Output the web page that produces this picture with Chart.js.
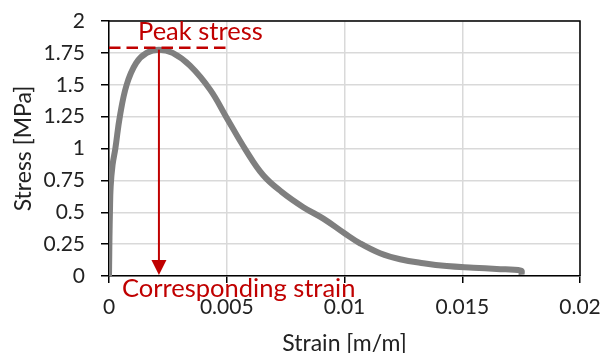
<!DOCTYPE html>
<html>
<head>
<meta charset="utf-8">
<script src="https://cdn.jsdelivr.net/npm/chart.js@4.4.0/dist/chart.umd.min.js"></script>
<style>
  html, body { margin: 0; padding: 0; background: #fff; }
  canvas { display: block; }
</style>
</head>
<body>
<canvas id="stress-strain" width="602" height="353"></canvas>
<script>
// stress-strain curve, strain in m/m and stress in MPa
const strain = [0, 0.00001, 0.00002, 0.00004, 0.00007, 0.00015, 0.00027, 0.00046, 0.00075, 0.00115,
    0.0016, 0.00212, 0.0027, 0.00344, 0.0043, 0.005, 0.0058, 0.00655, 0.00733, 0.00825,
    0.0091, 0.01, 0.01066, 0.01151, 0.01236, 0.01335, 0.01434, 0.01547, 0.01646, 0.0175, 0.01752];
const stress = [0, 0.15, 0.3, 0.5, 0.7, 0.87, 1.0, 1.25, 1.5, 1.67,
    1.75, 1.775, 1.75, 1.65, 1.46, 1.24, 0.99, 0.79, 0.66, 0.54,
    0.45, 0.335, 0.256, 0.178, 0.131, 0.1, 0.078, 0.065, 0.055, 0.042, 0.01];

const xTicks = [0, 0.005, 0.01, 0.015, 0.02];
const yTicks = [0, 0.25, 0.5, 0.75, 1, 1.25, 1.5, 1.75, 2];

const peakStrain = 0.00212;
const peakStress = 1.775;

const RED = '#c00000';
const FONT = 'Lato, "Open Sans", sans-serif';
const TEXT = '#222';

// black frame on the top and right of the plot area
const frame = {
    id: 'frame',
    beforeDatasetsDraw(chart) {
        const { ctx, chartArea: a } = chart;
        ctx.save();
        ctx.strokeStyle = '#000';
        ctx.lineWidth = 1.5;
        ctx.beginPath();
        ctx.moveTo(a.left, a.top);
        ctx.lineTo(a.right, a.top);
        ctx.lineTo(a.right, a.bottom);
        ctx.stroke();
        ctx.restore();
    }
};

// peak marker: dashed level line, arrow down to the strain axis, labels
const peakNotes = {
    id: 'peakNotes',
    afterDatasetsDraw(chart) {
        const { ctx, chartArea: a, scales: { x, y } } = chart;
        const px = x.getPixelForValue(peakStrain);
        const py = y.getPixelForValue(peakStress);
        ctx.save();
        ctx.strokeStyle = RED;
        ctx.fillStyle = RED;

        ctx.lineWidth = 2.5;
        ctx.setLineDash([11.5, 6]);
        ctx.beginPath();
        ctx.moveTo(a.left, py - 2);
        ctx.lineTo(a.left + 120, py - 2);
        ctx.stroke();

        ctx.setLineDash([]);
        ctx.lineWidth = 2;
        ctx.beginPath();
        ctx.moveTo(px, py);
        ctx.lineTo(px, a.bottom - 14);
        ctx.stroke();
        ctx.beginPath();
        ctx.moveTo(px - 7.5, a.bottom - 16);
        ctx.lineTo(px + 7.5, a.bottom - 16);
        ctx.lineTo(px, a.bottom - 1);
        ctx.closePath();
        ctx.fill();

        ctx.font = '25.5px ' + FONT;
        ctx.textBaseline = 'alphabetic';
        ctx.textAlign = 'left';
        ctx.fillText('Peak stress', a.left + 29, a.top + 18.5);
        ctx.fillText('Corresponding strain', a.left + 13, a.bottom + 20.7);
        ctx.restore();
    }
};

// fixed axis sizes; drop the label overhang so the layout padding alone places the plot
function fixSize(prop, size) {
    return s => {
        s[prop] = size;
        s.paddingTop = s.paddingBottom = s.paddingLeft = s.paddingRight = 0;
    };
}

const gridStyle = {
    color: '#d9d9d9',
    lineWidth: 1.5,
    tickColor: '#000',
    tickWidth: 1.5
};

const ctx = document.getElementById('stress-strain').getContext('2d');
new Chart(ctx, {
    type: 'line',
    data: {
        datasets: [{
            data: strain.map((s, i) => ({ x: s, y: stress[i] })),
            borderColor: '#7f7f7f',
            borderWidth: 6,
            pointRadius: 0,
            tension: 0.4,
            fill: false
        }]
    },
    options: {
        responsive: false,
        animation: false,
        devicePixelRatio: 1,
        layout: { padding: { top: 21, right: 22, left: 0, bottom: 0 } },
        plugins: {
            legend: { display: false },
            tooltip: { enabled: false }
        },
        scales: {
            x: {
                type: 'linear',
                min: 0,
                max: 0.02,
                afterBuildTicks: s => { s.ticks = xTicks.map(v => ({ value: v })); },
                afterFit: fixSize('height', 77),
                grid: { ...gridStyle, tickLength: 7 },
                border: { color: '#000', width: 1.5 },
                ticks: {
                    color: TEXT,
                    font: { family: FONT, size: 21 },
                    padding: 12,
                    autoSkip: false,
                    maxRotation: 0,
                    callback: v => String(+v.toFixed(3))
                },
                title: {
                    display: true,
                    text: 'Strain [m/m]',
                    color: TEXT,
                    font: { family: FONT, size: 23 },
                    padding: { top: 0, bottom: -4 }
                }
            },
            y: {
                type: 'linear',
                min: 0,
                max: 2,
                afterBuildTicks: s => { s.ticks = yTicks.map(v => ({ value: v })); },
                afterFit: fixSize('width', 109),
                grid: { ...gridStyle, tickLength: 8 },
                border: { color: '#000', width: 1.5 },
                ticks: {
                    color: TEXT,
                    font: { family: FONT, size: 21 },
                    padding: 16,
                    autoSkip: false,
                    callback: v => String(v)
                },
                title: {
                    display: true,
                    text: 'Stress [MPa]',
                    color: TEXT,
                    font: { family: FONT, size: 23 },
                    padding: { top: 10, bottom: 0 }
                }
            }
        }
    },
    plugins: [frame, peakNotes]
});
</script>
</body>
</html>
